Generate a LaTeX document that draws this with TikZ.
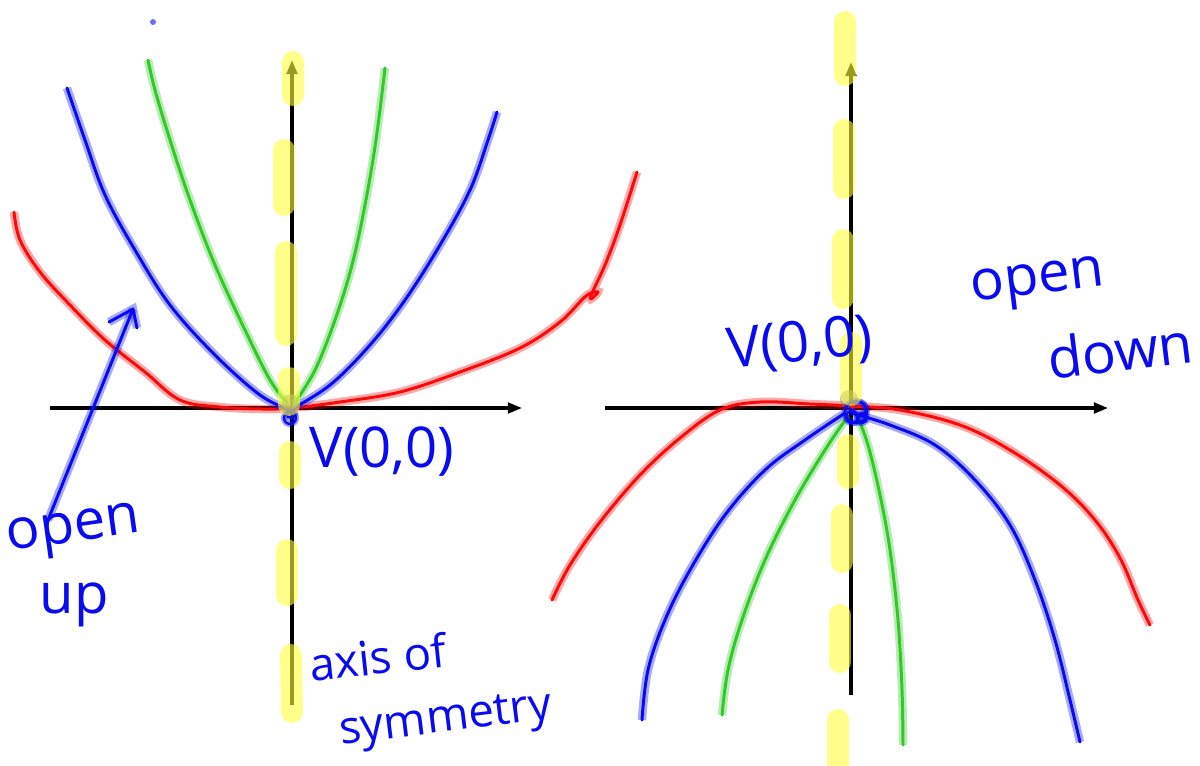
\documentclass[tikz,border=0pt]{standalone}
\usepackage{fontspec}
\setmainfont{Open Sans}
\usetikzlibrary{arrows.meta}
\definecolor{pblue}{RGB}{10,10,240}
\definecolor{pred}{RGB}{250,10,10}
\definecolor{pgreen}{RGB}{50,200,40}
\definecolor{pyellow}{RGB}{255,255,60}
\tikzset{
  hand/.style={draw=#1, line width=1.7pt, line cap=round, line join=round,
    preaction={draw=#1, line width=4.8pt, opacity=0.35}},
  thin hand/.style={draw=#1, line width=1.3pt,
    preaction={draw=#1, line width=3.5pt, opacity=0.4}},
  axis/.style={line width=1.8pt, black, -{Triangle[length=8pt,width=6pt]}},
  hl/.style={line width=12.5pt, pyellow, opacity=0.6, line cap=round},
  lbl/.style={text=pblue, font=\fontsize{32}{34}\selectfont, inner sep=0pt},
  slbl/.style={text=pblue, font=\fontsize{26}{28}\selectfont, inner sep=0pt},
}
\begin{document}
\begin{tikzpicture}[x=0.02cm,y=-0.02cm]
\useasboundingbox (0,0) rectangle (1200,765);
% ---------- left graph ----------
\coordinate (lxa) at (50,408); \coordinate (lxb) at (522,408);
\coordinate (lya) at (292,705); \coordinate (lyb) at (292,60);
\draw[axis] (lxa) -- (lxb);
\draw[axis] (lya) -- (lyb);
% curves
\draw[hand=pred] plot[smooth, tension=0.6] coordinates {(14,212) (20,240) (40,272) (70,305) (105,340) (145,372) (180,400) (220,407) (262,409) (292,408) (340,402) (400,392) (460,372) (520,348) (560,322) (586,296) (598,292) (590,298) (605,265) (620,225) (637,172)};
\draw[hand=pblue] plot[smooth, tension=0.6] coordinates {(67,88) (85,140) (105,195) (135,250) (170,305) (215,355) (260,395) (290,410)};
\draw[hand=pblue] plot[smooth, tension=0.6] coordinates {(290,410) (330,385) (370,345) (405,300) (440,245) (470,190) (488,140) (497,112)};
\draw[hand=pgreen] plot[smooth, tension=0.6] coordinates {(148,60) (155,90) (170,140) (190,200) (215,265) (245,330) (270,380) (288,404)};
\draw[hand=pgreen] plot[smooth, tension=0.6] coordinates {(294,404) (315,370) (335,320) (352,265) (365,205) (376,140) (385,68)};
% vertex
\fill[gray, opacity=0.55] (290,402) circle (8);
\draw[thin hand=pblue] (290,418) circle (6);
\draw[thin hand=pblue] (291,414) circle (4);
% highlight
\draw[hl] (293,62) -- (293,95);
\draw[hl] (284,150) -- (284,205);
\draw[hl] (286,252) -- (286,335);
\draw[hl] (289,378) -- (289,405);
\draw[hl] (290,452) -- (290,478);
\draw[hl] (287,550) -- (287,595);
\draw[hl] (291,655) -- (292,712);
% open-up arrow
\coordinate (oa) at (48,520); \coordinate (ob) at (133,309);
\draw[hand=pblue] (oa) -- (ob);
\draw[hand=pblue] (109,322) -- (ob) -- (137,328);
\fill[pblue, opacity=0.6] (153,22) circle (3);
\fill[pblue] (362,643) circle (2.5);
% labels
\node[lbl, rotate=8] (ou1) at (74,533) {open};
\node[lbl] (ou2) at (74,605) {up};
\node[lbl] (v1) at (382,452) {V(0,0)};
\node[slbl, rotate=6] (ax1) at (378,657) {axis of};
\node[slbl, rotate=7] (ax2) at (446,722) {symmetry};
% ---------- right graph ----------
\coordinate (rxa) at (605,408); \coordinate (rxb) at (1108,408);
\coordinate (rya) at (851,695); \coordinate (ryb) at (851,62);
\draw[axis] (rxa) -- (rxb);
\draw[axis] (rya) -- (ryb);
\draw[hand=pred] plot[smooth, tension=0.6] coordinates {(552,600) (570,565) (600,522) (640,475) (680,438) (720,410) (760,402) (810,404) (851,406) (900,410) (960,425) (1010,450) (1060,485) (1095,520) (1120,558) (1138,600) (1150,625)};
\draw[hand=pblue] plot[smooth, tension=0.6] coordinates {(642,720) (648,670) (665,620) (690,570) (725,515) (765,470) (805,440) (845,413)};
\draw[hand=pblue] plot[smooth, tension=0.6] coordinates {(858,415) (890,425) (935,445) (975,480) (1010,525) (1035,580) (1055,640) (1070,700) (1080,742)};
\draw[hand=pgreen] plot[smooth, tension=0.6] coordinates {(722,715) (728,670) (742,620) (765,560) (795,500) (825,450) (848,416)};
\draw[hand=pgreen] plot[smooth, tension=0.6] coordinates {(858,418) (868,445) (880,495) (890,550) (898,620) (902,690) (903,745)};
% vertex
\fill[gray, opacity=0.55] (849,399) circle (9);
\draw[thin hand=pblue] (856,412) circle (11);
\draw[thin hand=pblue] (859,409) circle (7);
\draw[thin hand=pblue] (852,417) circle (6);
\draw[thin hand=pblue] (862,418) circle (5);
\fill[pred] (853,406) circle (2.5);
% highlight
\draw[hl] (845,22) -- (845,75);
\draw[hl] (844,130) -- (844,188);
\draw[hl] (843,240) -- (843,298);
\draw[hl] (851,343) -- (851,395);
\draw[hl] (848,445) -- (848,478);
\draw[hl] (842,515) -- (842,562);
\draw[hl] (840,615) -- (840,662);
\draw[hl] (838,720) -- (838,770);
% labels
\node[lbl, rotate=6] (v2) at (800,345) {V(0,0)};
\node[lbl, rotate=7] (od1) at (1038,285) {open};
\node[lbl, rotate=7] (od2) at (1120,350) {down};
\end{tikzpicture}
\end{document}
